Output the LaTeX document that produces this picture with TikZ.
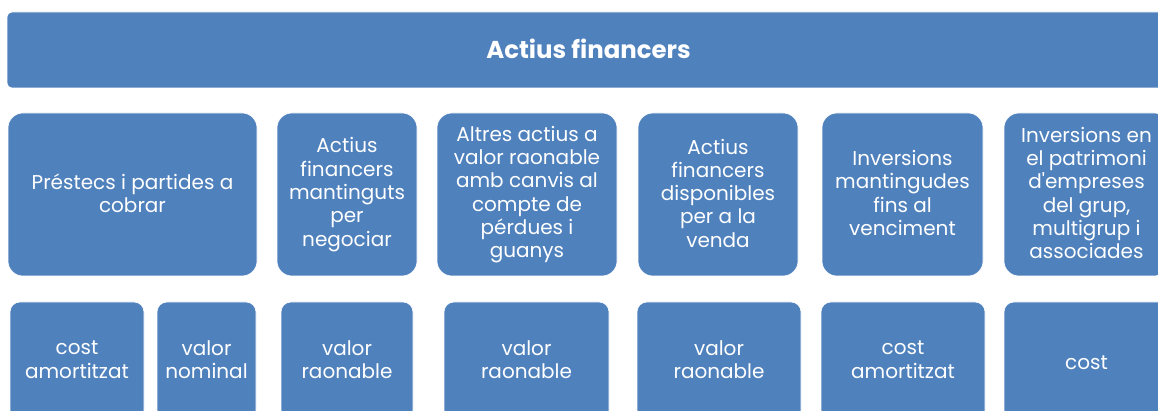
\documentclass[tikz,border=0pt]{standalone}
\usepackage{fontspec}
\setmainfont{Poppins}
\definecolor{boxblue}{HTML}{4F81BD}
\newcommand\boxstrut{\rule[-3pt]{0pt}{22pt}}
\tikzset{
  box/.style={fill=boxblue, draw=white, line width=0.6pt, text=white, align=center,
    inner sep=0pt, font=\fontsize{20}{23.3}\selectfont,
    execute at begin node=\boxstrut, execute at end node=\boxstrut},
  head/.style={box, rounded corners=5pt, font=\bfseries\fontsize{24.4}{28}\selectfont},
  kind/.style={box, rounded corners=15pt, minimum height=163pt},
  rule/.style={box, rounded corners=10pt, minimum height=118pt}
}
\begin{document}
\begin{tikzpicture}[x=1pt,y=1pt]
\useasboundingbox (0,0) rectangle (1158,-411);
\clip (0,0) rectangle (1158,-411);
% title
\node [head, minimum width=1163pt, minimum height=76pt] (actius) at (588.5,-50) {Actius financers};
% kinds of financial assets
\node [kind, minimum width=249pt] (prestecs) at (132.5,-194.5) {Préstecs i partides a\\cobrar};
\node [kind, minimum width=140pt] (negociar) at (347,-194.5) {Actius\\financers\\mantinguts\\per\\negociar};
\node [kind, minimum width=180pt] (altres) at (527,-194.5) {Altres actius a\\valor raonable\\amb canvis al\\compte de\\pérdues i\\guanys};
\node [kind, minimum width=160pt] (venda) at (718,-194.5) {Actius\\financers\\disponibles\\per a la\\venda};
\node [kind, minimum width=161pt] (venciment) at (902.5,-194.5) {Inversions\\mantingudes\\fins al\\venciment};
\node [kind, minimum width=165pt] (grup) at (1086.5,-194.5) {Inversions en\\el patrimoni\\d\textquotesingle empreses\\del grup,\\multigrup i\\associades};
% valuation rules
\node [rule, minimum width=134pt] (amort1) at (77,-361) {cost\\amortitzat};
\node [rule, minimum width=99pt] (nominal) at (206.5,-361) {valor\\nominal};
\node [rule, minimum width=132pt] (raon1) at (347,-361) {valor\\raonable};
\node [rule, minimum width=165pt] (raon2) at (526.5,-361) {valor\\raonable};
\node [rule, minimum width=164pt] (raon3) at (719,-361) {valor\\raonable};
\node [rule, minimum width=164pt] (amort2) at (903,-361) {cost\\amortitzat};
\node [rule, minimum width=165pt] (cost) at (1086.5,-361) {cost};
\end{tikzpicture}
\end{document}
